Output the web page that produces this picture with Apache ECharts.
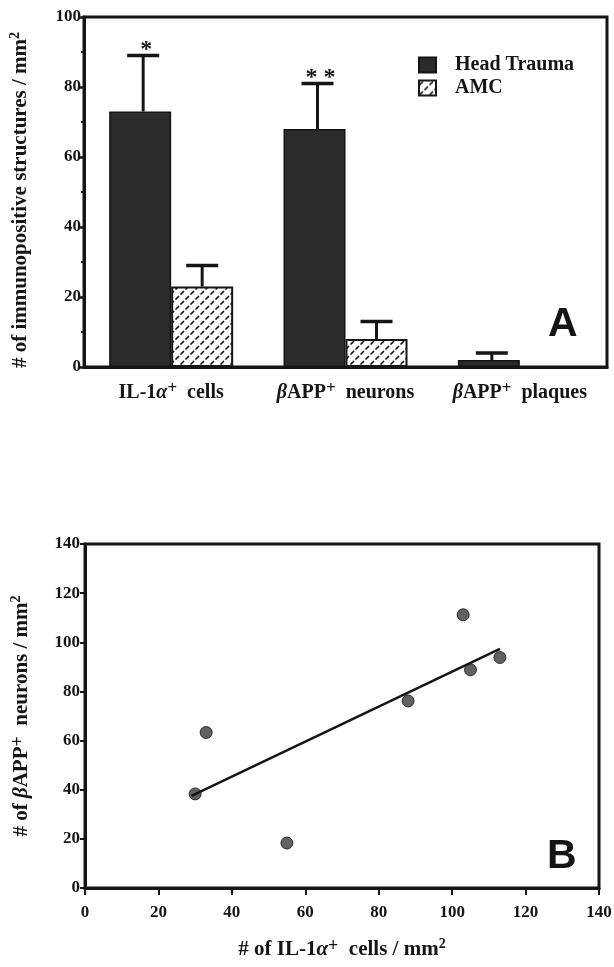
<!DOCTYPE html>
<html>
<head>
<meta charset="utf-8">
<script src="https://cdn.jsdelivr.net/npm/echarts@6/dist/echarts.min.js"></script>
<style>
html,body{margin:0;padding:0;background:#fff;}
#main{width:614px;height:967px;}
</style>
</head>
<body>
<div id="main"></div>
<script>
// ---- Panel A data ----
const categories = ['IL-1α⁺  cells', 'βAPP⁺  neurons', 'βAPP⁺  plaques'];
const headTrauma = [73, 68, 2];
const headTraumaSD = [16, 13, 2];
const amc = [23, 8, null];
const amcSD = [6, 5, null];
const significance = ['*', '**', ''];
const yTicksA = [0, 20, 40, 60, 80, 100];

// ---- Panel B data ----
const il1Cells = [30, 33, 55, 88, 103, 105, 113];
const bappNeurons = [38.3, 63.3, 18.3, 76.1, 111.2, 88.8, 93.8];
const fitLine = [[29, 37.5], [113, 97.3]];
const ticksB = [0, 20, 40, 60, 80, 100, 120, 140];

const FONT = 'Liberation Serif';
const INK = '#151515';

// hatch pattern for AMC bars
function makePattern() {
  const c = document.createElement('canvas');
  c.width = 10; c.height = 10;
  const g = c.getContext('2d');
  g.fillStyle = '#fff'; g.fillRect(0, 0, 10, 10);
  g.strokeStyle = '#111'; g.lineWidth = 1.7; g.lineCap = 'round';
  g.beginPath();
  g.moveTo(1, 4); g.lineTo(3.5, 1.5);
  g.moveTo(6, 9); g.lineTo(8.5, 6.5);
  g.stroke();
  return c;
}
const pattern = { image: makePattern(), repeat: 'repeat' };

function richify(s) {
  return s.replace(/α/g, '{gr|α}').replace(/β/g, '{gr|β}')
          .replace(/⁺/g, '{sup|+}').replace(/²/g, '{sup2|2}');
}
function richFor(size) {
  return {
    gr: { fontFamily: FONT, fontStyle: 'italic', fontWeight: 'bold', fontSize: size, color: INK, lineHeight: 26 },
    sup: { fontFamily: FONT, fontWeight: 'bold', fontSize: size - 3, color: INK, lineHeight: 26, verticalAlign: 'top' },
    sup2: { fontFamily: FONT, fontWeight: 'bold', fontSize: size - 7, color: INK, lineHeight: 26, verticalAlign: 'top' }
  };
}

const BAR_W = 62;
function errorSeries(name, vals, sds, sign, showSig) {
  const data = vals.map((v, i) => v == null ? null : [i, v, sds[i], i]).filter(d => d);
  return {
    type: 'custom',
    name: name + ' err',
    xAxisIndex: 0, yAxisIndex: 0,
    silent: true,
    z: 5,
    data: data,
    renderItem: function (params, api) {
      const i = api.value(0);
      const base = api.coord([i, api.value(1)]);
      const top = api.coord([i, api.value(1) + api.value(2)]);
      const x = base[0] + sign * BAR_W / 2 + (sign < 0 ? 3 : 0);
      const children = [
        { type: 'line', shape: { x1: x, y1: base[1], x2: x, y2: top[1] }, style: { stroke: INK, lineWidth: 3 } },
        { type: 'line', shape: { x1: x - 16, y1: top[1], x2: x + 16, y2: top[1] }, style: { stroke: INK, lineWidth: 3.5 } }
      ];
      if (showSig) {
        const s = significance[api.value(3)];
        if (s) {
          children.push({
            type: 'text',
            style: { text: s.split('').join(' '), x: x + 3, y: top[1] + 6, align: 'center', verticalAlign: 'bottom',
                     font: 'bold 24px "' + FONT + '"', fill: INK }
          });
        }
      }
      return { type: 'group', children: children };
    }
  };
}

const chart = echarts.init(document.getElementById('main'), null, { renderer: 'canvas' });
const option = {
  backgroundColor: '#fff',
  animation: false,
  textStyle: { fontFamily: FONT, color: INK },
  title: [
    { text: 'A', left: 543, top: 299, textStyle: { fontFamily: 'Liberation Sans', fontWeight: 'bold', fontSize: 41, color: INK } },
    { text: 'B', left: 542, top: 831, textStyle: { fontFamily: 'Liberation Sans', fontWeight: 'bold', fontSize: 41, color: INK } }
  ],
  legend: {
    data: ['Head Trauma', 'AMC'],
    orient: 'vertical',
    left: 413, top: 50,
    itemWidth: 17, itemHeight: 15, itemGap: 3,
    icon: 'rect',
    textStyle: { fontFamily: FONT, fontWeight: 'bold', fontSize: 20, color: INK, padding: [0, 0, 0, 14] }
  },
  grid: [
    { left: 84, right: 7, top: 17, bottom: 600, outerBoundsMode: 'none', containLabel: false, show: true, borderColor: INK, borderWidth: 3, backgroundColor: 'transparent' },
    { left: 85, right: 15, top: 544, bottom: 79, outerBoundsMode: 'none', containLabel: false, show: true, borderColor: INK, borderWidth: 3, backgroundColor: 'transparent' }
  ],
  xAxis: [
    {
      type: 'category', gridIndex: 0, data: categories,
      axisLine: { lineStyle: { color: INK, width: 3 } },
      axisTick: { show: false },
      axisLabel: {
        interval: 0, margin: 13, fontFamily: FONT, fontWeight: 'bold', fontSize: 20, color: INK, lineHeight: 26,
        formatter: v => richify(v), rich: richFor(20)
      }
    },
    {
      type: 'value', gridIndex: 1, min: 0, max: 140, interval: 20,
      splitLine: { show: false },
      axisLine: { onZero: false, lineStyle: { color: INK, width: 3 } },
      axisTick: { show: true, length: 7, lineStyle: { color: INK, width: 2 } },
      axisLabel: { margin: 16, fontFamily: FONT, fontWeight: 'bold', fontSize: 17, color: INK,
        customValues: ticksB },
      name: '# of IL-1α⁺  cells / mm²',
      nameLocation: 'middle', nameGap: 49,
      nameTextStyle: { fontFamily: FONT, fontWeight: 'bold', fontSize: 21, color: INK, lineHeight: 26, rich: richFor(21) },
    }
  ],
  yAxis: [
    {
      type: 'value', gridIndex: 0, min: 0, max: 100, interval: 20,
      splitLine: { show: false },
      axisLine: { show: true, lineStyle: { color: INK, width: 3 } },
      axisTick: { show: true, length: 6, lineStyle: { color: INK, width: 2.5 } },
      minorTick: { show: true, splitNumber: 2, length: 3, lineStyle: { color: INK, width: 2 } },
      axisLabel: { margin: 3, fontFamily: FONT, fontWeight: 'bold', fontSize: 17, color: INK, customValues: yTicksA },
      name: '# of immunopositive structures / mm²',
      nameLocation: 'middle', nameGap: 50, nameRotate: 90,
      nameTextStyle: { fontFamily: FONT, fontWeight: 'bold', fontSize: 21, color: INK, lineHeight: 26, padding: [0, 16, 0, 0], rich: richFor(21) }
    },
    {
      type: 'value', gridIndex: 1, min: 0, max: 140, interval: 20,
      splitLine: { show: false },
      axisLine: { show: true, onZero: false, lineStyle: { color: INK, width: 3 } },
      axisTick: { show: true, length: 5, lineStyle: { color: INK, width: 2 } },
      axisLabel: { margin: 5, fontFamily: FONT, fontWeight: 'bold', fontSize: 17, color: INK, customValues: ticksB },
      name: '# of βAPP⁺  neurons / mm²',
      nameLocation: 'middle', nameGap: 50, nameRotate: 90,
      nameTextStyle: { fontFamily: FONT, fontWeight: 'bold', fontSize: 21, color: INK, lineHeight: 26, rich: richFor(21) }
    }
  ],
  series: [
    {
      name: 'Head Trauma', type: 'bar', xAxisIndex: 0, yAxisIndex: 0,
      data: headTrauma, barWidth: BAR_W, barGap: '0%',
      itemStyle: { color: '#2b2b2b', borderColor: INK, borderWidth: 1.5 }
    },
    {
      name: 'AMC', type: 'bar', xAxisIndex: 0, yAxisIndex: 0,
      data: amc, barWidth: BAR_W, barGap: '0%',
      itemStyle: { color: pattern, borderColor: INK, borderWidth: 2 }
    },
    errorSeries('Head Trauma', headTrauma, headTraumaSD, -1, true),
    errorSeries('AMC', amc, amcSD, 1, false),
    {
      name: 'fit', type: 'line', xAxisIndex: 1, yAxisIndex: 1,
      data: fitLine, symbol: 'none', silent: true,
      lineStyle: { color: INK, width: 2.5 }
    },
    {
      name: 'points', type: 'scatter', xAxisIndex: 1, yAxisIndex: 1,
      data: il1Cells.map((x, i) => [x, bappNeurons[i]]),
      symbol: 'circle', symbolSize: 12,
      itemStyle: { color: '#3a3a3a', borderColor: '#111', borderWidth: 1 }
    }
  ]
};
option.xAxis[1].name = richify(option.xAxis[1].name);
option.yAxis[0].name = richify(option.yAxis[0].name);
option.yAxis[1].name = richify(option.yAxis[1].name);
chart.setOption(option);
</script>
</body>
</html>
